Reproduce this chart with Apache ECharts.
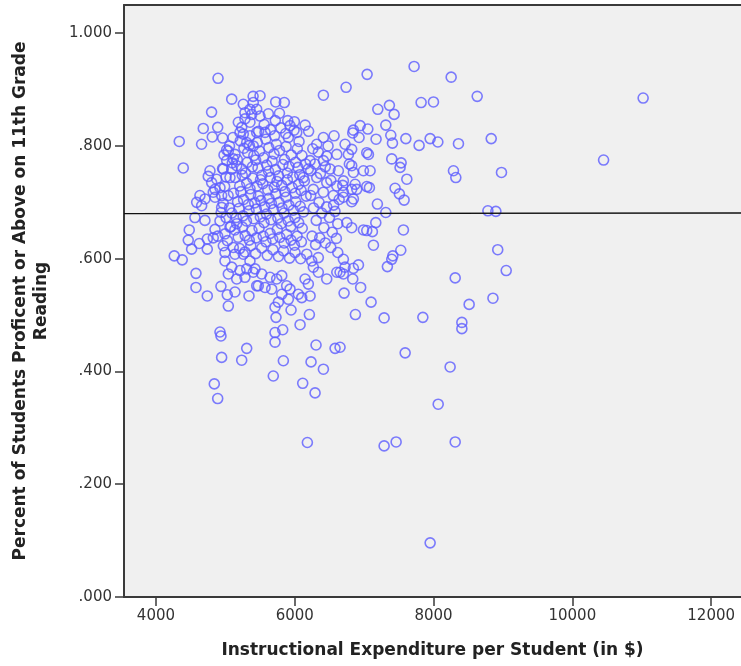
<!DOCTYPE html>
<html>
<head>
<meta charset="utf-8">
<title>Expenditure vs Reading Proficiency</title>
<script src="https://cdn.jsdelivr.net/npm/echarts@6/dist/echarts.min.js"></script>
<style>
  html, body { margin: 0; padding: 0; background: #fff; }
  #chart { width: 741px; height: 666px; }
</style>
</head>
<body>
<div id="chart"></div>
<script>
// tick labels
const xTicks = [4000, 6000, 8000, 10000, 12000];
const yTicks = [0, 0.2, 0.4, 0.6, 0.8, 1.0];

// fitted line (total), read at both ends of the plot
const fitLine = [[3540, 0.680], [12430, 0.681]];

// [expenditure per student, share proficient]
const outliers = [
  [11020,0.885],[10450,0.775],[7720,0.941],[7043,0.927],[4895,0.920],[8254,0.922],[8629,0.888],[6740,0.904],[6413,0.890],[5092,0.883],
  [7821,0.877],[7999,0.878],[7197,0.865],[7364,0.872],[7432,0.856],[7312,0.837],[6942,0.836],[6845,0.828],[6836,0.823],[7053,0.830],
  [6927,0.815],[7172,0.812],[7384,0.819],[7408,0.805],[7601,0.813],[7792,0.801],[7951,0.813],[8062,0.807],[8359,0.804],[8831,0.813],
  [6725,0.803],[6773,0.785],[7038,0.788],[7062,0.785],[6787,0.768],[6821,0.765],[6845,0.753],[7086,0.756],[7398,0.777],[7533,0.770],
  [7518,0.762],[7615,0.741],[8287,0.756],[8321,0.744],[8979,0.753],[6692,0.730],[6894,0.723],[7038,0.728],[7076,0.726],[7446,0.725],
  [7508,0.715],[7576,0.704],[6701,0.709],[6845,0.706],[6821,0.701],[7191,0.697],[7312,0.682],[8783,0.685],[8898,0.684],[6750,0.664],
  [6821,0.655],[7168,0.664],[7038,0.650],[7119,0.648],[7566,0.651],[7134,0.624],[7528,0.615],[7413,0.605],[7398,0.599],[7335,0.586],
  [8925,0.616],[9047,0.579],[6701,0.599],[6725,0.585],[6845,0.583],[6918,0.589],[6836,0.564],[6653,0.576],[6950,0.549],[6711,0.539],
  [8312,0.566],[7100,0.523],[6874,0.501],[7288,0.495],[7846,0.496],[8513,0.519],[8856,0.530],[8408,0.487],[8408,0.476],[6653,0.443],
  [7951,0.096],[7288,0.268],[7461,0.275],[8312,0.275],[8067,0.342],[8239,0.408],[7591,0.433]
];

const lowerLeft = [
  [4264,0.605],[4379,0.598],[4577,0.574],[4577,0.549],[4740,0.534],[4937,0.551],[5028,0.536],[5139,0.541],[5043,0.516],[5341,0.534],
  [4923,0.470],[4937,0.463],[4947,0.425],[5308,0.441],[5236,0.420],[4841,0.378],[4890,0.352],[5730,0.496],[5716,0.469],[5827,0.474],
  [5716,0.452],[5836,0.419],[5691,0.392],[5947,0.509],[6077,0.483],[6211,0.501],[6307,0.447],[6235,0.417],[6413,0.404],[6581,0.441],
  [6115,0.379],[6293,0.362],[6182,0.274],
  [5764,0.523],[5716,0.514],[5908,0.528],[5813,0.537],[6052,0.537],[6101,0.531],[6221,0.534],[5932,0.546],[6149,0.564],[6196,0.555],
  [6268,0.585],[6340,0.602],[6173,0.608],[6245,0.596],[6340,0.576],[6461,0.564],[6701,0.573],[6606,0.576],[6620,0.611],[6990,0.651],
  [5428,0.582],[5524,0.573],[5644,0.567],[5475,0.552],[5572,0.549],[5740,0.564],[5813,0.570],[5668,0.546],[5884,0.552],
  [4995,0.611],[4995,0.596],[5092,0.585],[5043,0.573],[5164,0.564],[5283,0.567],[5211,0.579],[5308,0.582],[5402,0.576],[5452,0.552],
  [5355,0.596],[5259,0.608],[5115,0.620],[5139,0.608],[4971,0.623],[4995,0.644],[5067,0.656],[5164,0.662],[4923,0.667],[4851,0.652],
  [4562,0.673],[4706,0.668],[4480,0.651],[4466,0.633],[4514,0.617],[4624,0.627],[4740,0.635],[4826,0.637],[4740,0.617]
];

const upperLeft = [
  [4802,0.860],[4682,0.831],[4890,0.833],[4812,0.816],[4962,0.814],[4336,0.808],[4658,0.803],[4394,0.761],[5019,0.793],[4981,0.784],
  [5259,0.874],[5355,0.865],[5283,0.859],[5403,0.877],[5400,0.888],[5500,0.889],
  [4779,0.756],[4754,0.746],[4803,0.735],[4875,0.741],[4971,0.759],[4634,0.712],[4587,0.700],[4659,0.694],[4707,0.706],[4851,0.709],
  [4947,0.691],[4923,0.726],[4851,0.723],[4947,0.712],[4826,0.718],[5019,0.774],[5043,0.791],[5115,0.777],[5092,0.759],[5067,0.744],
  [5164,0.765],[5139,0.785],[5187,0.842],[5236,0.833],[5211,0.824],[5259,0.821],[5308,0.806],[5355,0.818],[5403,0.800],[5452,0.824],
  [5355,0.842],[5283,0.848],[5380,0.856],[5452,0.865],
  [5726,0.878],[5850,0.877],[5500,0.853],[5899,0.845],[5995,0.843],[5932,0.836],[5572,0.824],[6029,0.824],[5908,0.815],[6062,0.808],
  [6413,0.815],[6567,0.818],[6821,0.794],[6317,0.803],[6340,0.789],[6461,0.782],[6606,0.785],
  [6221,0.774],[6413,0.774],[6509,0.759],[6629,0.756],[6701,0.738],[6606,0.729],[6461,0.735],[6317,0.744],[6196,0.759],[6124,0.744],
  [6268,0.723],[6413,0.718],[6557,0.712],[6701,0.718],[6821,0.723],[6870,0.732],[6990,0.756]
];

const core = [
  [5215,0.809],[5268,0.796],[5322,0.788],[5347,0.801],[5411,0.783],[5462,0.806],[5493,0.791],[5551,0.779],[5583,0.812],[5627,0.797],
  [5702,0.786],[5735,0.803],[5781,0.792],[5853,0.776],[5876,0.799],[5949,0.784],[6012,0.771],[6037,0.795],[6104,0.783],[6158,0.768],
  [5172,0.776],[5238,0.759],[5291,0.752],[5318,0.771],[5389,0.763],[5437,0.775],[5471,0.761],[5526,0.748],[5597,0.766],[5622,0.755],
  [5674,0.773],[5721,0.758],[5768,0.747],[5829,0.767],[5892,0.752],[5918,0.764],[5973,0.745],[6046,0.762],[6073,0.749],[6139,0.738],
  [5143,0.744],[5207,0.729],[5244,0.748],[5309,0.734],[5356,0.724],[5395,0.743],[5458,0.729],[5507,0.740],[5541,0.733],[5612,0.722],
  [5648,0.744],[5705,0.727],[5744,0.737],[5812,0.730],[5859,0.719],[5894,0.740],[5962,0.726],[6008,0.716],[6055,0.732],[6092,0.721],
  [6164,0.711],[5118,0.716],[5176,0.701],[5224,0.719],[5263,0.705],[5331,0.696],[5366,0.714],[5424,0.699],[5477,0.711],[5513,0.703],
  [5565,0.692],[5628,0.707],[5663,0.698],[5726,0.715],[5774,0.700],[5817,0.690],[5873,0.709],[5915,0.695],[5978,0.686],[6016,0.701],
  [6079,0.693],[6126,0.683],[5094,0.681],[5157,0.673],[5196,0.689],[5256,0.676],[5304,0.667],[5342,0.685],[5409,0.671],[5446,0.688],
  [5504,0.674],[5558,0.664],[5593,0.679],[5657,0.669],[5693,0.687],[5757,0.672],[5804,0.662],[5846,0.681],[5907,0.667],[5944,0.657],
  [6003,0.673],[6057,0.664],[6108,0.654],[5137,0.651],[5185,0.638],[5246,0.656],[5286,0.641],[5345,0.633],[5384,0.650],[5447,0.637],
  [5486,0.654],[5546,0.640],[5585,0.630],[5646,0.645],[5683,0.635],[5748,0.652],[5786,0.638],[5847,0.628],[5884,0.643],[5946,0.633],
  [5996,0.624],[6034,0.640],[6096,0.630],[5206,0.618],[5283,0.612],[5367,0.623],[5436,0.609],[5525,0.619],[5604,0.606],[5686,0.616],
  [5765,0.604],[5838,0.614],[5925,0.601],[6004,0.611],[6085,0.600]
];

const fringe = [
  [6230,0.712],[6270,0.690],[6310,0.668],[6350,0.700],[6390,0.681],[6420,0.655],[6460,0.692],[6500,0.673],[6540,0.647],[6580,0.684],
  [6620,0.662],[6250,0.640],[6300,0.625],[6360,0.637],[6440,0.628],[6520,0.620],[6600,0.636],[6230,0.756],[6290,0.768],[6370,0.751],
  [6440,0.763],[6520,0.739],[6560,0.695],[6640,0.705],[6260,0.795],[6480,0.800],[6200,0.826],[6150,0.837],
  [4960,0.760],[5010,0.745],[4990,0.728],[5040,0.712],[4970,0.698],[5060,0.690],[5010,0.673],[4940,0.682],[5080,0.657],[4890,0.640],
  [5030,0.632],[5100,0.770],[5060,0.800],[5110,0.815],
  [5560,0.838],[5650,0.829],[5720,0.845],[5800,0.832],[5480,0.826],[5620,0.857],[5780,0.858],[5870,0.822],[5990,0.828],[5710,0.818]
];

const schools = [].concat(outliers, lowerLeft, upperLeft, core, fringe);

const chart = echarts.init(document.getElementById('chart'));

const axisDark = '#3a3a3a';
const labelFont = { fontFamily: 'DejaVu Sans', fontSize: 15, color: '#333' };

const option = {
  animation: false,
  backgroundColor: '#ffffff',
  grid: {
    left: 124, top: 5, right: 0, bottom: 69,
    show: true, backgroundColor: '#f0f0f0', borderWidth: 0
  },
  xAxis: [{
    type: 'value',
    min: 3540, max: 12430,
    name: 'Instructional Expenditure per Student (in $)',
    nameLocation: 'middle',
    nameGap: 45,
    nameTextStyle: { fontFamily: 'DejaVu Sans', fontSize: 17, fontWeight: 'bold', color: '#222' },
    axisLine: { show: true, lineStyle: { color: axisDark, width: 2 } },
    axisTick: { show: true, length: 9, customValues: xTicks, lineStyle: { color: axisDark, width: 1.5 } },
    axisLabel: Object.assign({
      margin: 12,
      customValues: xTicks,
      formatter: function (v) { return String(v); }
    }, labelFont),
    splitLine: { show: false }
  }, {
    type: 'value',
    position: 'top',
    min: 3540, max: 12430,
    axisLine: { show: true, onZero: false, lineStyle: { color: axisDark, width: 2 } },
    axisTick: { show: false },
    axisLabel: { show: false },
    splitLine: { show: false }
  }],
  yAxis: {
    type: 'value',
    min: 0, max: 1.05,
    name: 'Percent of Students Proficent or Above on 11th Grade\nReading',
    nameLocation: 'middle',
    nameGap: 72,
    nameTextStyle: { fontFamily: 'DejaVu Sans', fontSize: 17, fontWeight: 'bold', color: '#222', lineHeight: 21 },
    axisLine: { show: true, lineStyle: { color: axisDark, width: 2 } },
    axisTick: { show: true, length: 9, customValues: yTicks, lineStyle: { color: axisDark, width: 1.5 } },
    axisLabel: Object.assign({
      margin: 12,
      customValues: yTicks,
      formatter: function (v) {
        return v >= 1 ? '1.000' : v.toFixed(3).replace(/^0/, '');
      }
    }, labelFont),
    splitLine: { show: false }
  },
  series: [{
    type: 'scatter',
    data: schools,
    symbol: 'circle',
    symbolSize: 10,
    silent: true,
    itemStyle: { color: 'rgba(0,0,0,0)', borderColor: '#5c5cff', borderWidth: 1.6 }
  }, {
    type: 'line',
    data: fitLine,
    symbol: 'none',
    silent: true,
    lineStyle: { color: '#111', width: 1.4 }
  }]
};

chart.setOption(option);
</script>
</body>
</html>
